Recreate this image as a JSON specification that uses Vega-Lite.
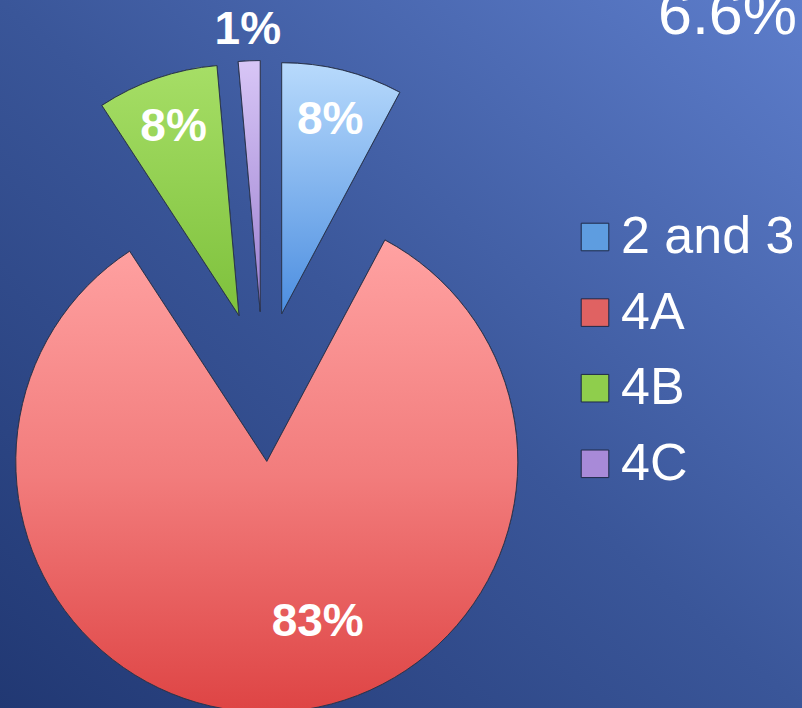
{
  "$schema": "https://vega.github.io/schema/vega-lite/v6.json",
  "width": 802,
  "height": 708,
  "autosize": {"type": "none"},
  "padding": 0,
  "background": "#2f4a8a",
  "title": {
    "text": "6.6%",
    "anchor": "start",
    "frame": "group",
    "orient": "top",
    "dx": 658,
    "dy": 60,
    "offset": -35,
    "baseline": "alphabetic",
    "font": "Liberation Sans",
    "fontSize": 61,
    "fontWeight": "normal",
    "color": "#ffffff"
  },
  "data": {
    "values": [
      {"Group": "2 and 3", "Share": 7.8},
      {"Group": "4A", "Share": 83.0},
      {"Group": "4B", "Share": 7.8},
      {"Group": "4C", "Share": 1.4}
    ]
  },
  "transform": [
    {"window": [{"op": "sum", "field": "Share", "as": "cum"}], "sort": [{"field": "Group"}], "frame": [null, 0]},
    {"calculate": "datum.cum - datum.Share", "as": "start"},
    {"calculate": "datum.cum - datum.Share / 2", "as": "mid"},
    {"calculate": "sin(2 * PI * datum.mid / 100)", "as": "ex"},
    {"calculate": "cos(2 * PI * datum.mid / 100)", "as": "ey"},
    {"calculate": "datum.Group === '4A' ? datum.mid - 4.2 : datum.mid", "as": "la"},
    {"calculate": "datum.Group === '4C' ? 282 : (datum.Group === '4A' ? 168 : 200)", "as": "lr"},
    {"calculate": "round(datum.Share) + '%'", "as": "Label"}
  ],
  "encoding": {
    "x": {"field": "ex", "type": "quantitative", "scale": {"domain": [-3.5133, 7.18], "nice": false, "zero": false}, "axis": null},
    "y": {"field": "ey", "type": "quantitative", "scale": {"domain": [-4.2867, 5.1533], "nice": false, "zero": false}, "axis": null}
  },
  "layer": [
    {
      "mark": {"type": "arc", "radius": 251, "stroke": "#2a3550", "strokeWidth": 1},
      "encoding": {
        "theta": {"field": "start", "type": "quantitative", "stack": null, "scale": {"domain": [0, 100]}},
        "theta2": {"field": "cum"},
        "color": {
          "field": "Group",
          "type": "nominal",
          "scale": {"domain": ["2 and 3", "4A", "4B", "4C"], "range": ["#5e9de0", "#e06262", "#8fce4c", "#a88ad8"]},
          "legend": {
            "title": null,
            "orient": "none",
            "legendX": 569,
            "legendY": 211,
            "padding": 0,
            "symbolType": "square",
            "symbolSize": 760,
            "symbolStrokeColor": "#1e2a48",
            "symbolStrokeWidth": 1,
            "symbolOpacity": 1,
            "labelFont": "Liberation Sans",
            "labelFontSize": 52,
            "labelColor": "#ffffff",
            "labelOffset": 0,
            "labelLimit": 300,
            "rowPadding": 23.6
          }
        }
      }
    },
    {
      "mark": {"type": "arc", "radius": 251, "stroke": "#2a3550", "strokeWidth": 1},
      "encoding": {
        "theta": {"field": "start", "type": "quantitative", "stack": null, "scale": {"domain": [0, 100]}},
        "theta2": {"field": "cum"},
        "fill": {
          "condition": [
            {"test": "datum.Group === '2 and 3'", "value": {"gradient": "linear", "x1": 0, "y1": 0, "x2": 0, "y2": 1, "stops": [{"offset": 0, "color": "#b8dafc"}, {"offset": 1, "color": "#4c8ee0"}]}},
            {"test": "datum.Group === '4A'", "value": {"gradient": "linear", "x1": 0, "y1": 0, "x2": 0, "y2": 1, "stops": [{"offset": 0, "color": "#ffa2a2"}, {"offset": 0.5, "color": "#f27c7c"}, {"offset": 1, "color": "#de4444"}]}},
            {"test": "datum.Group === '4B'", "value": {"gradient": "linear", "x1": 0, "y1": 0, "x2": 0, "y2": 1, "stops": [{"offset": 0, "color": "#a6de66"}, {"offset": 1, "color": "#7ec13c"}]}}
          ],
          "value": {"gradient": "linear", "x1": 0, "y1": 0, "x2": 0, "y2": 1, "stops": [{"offset": 0, "color": "#d8c6f6"}, {"offset": 1, "color": "#9a7ecf"}]}
        }
      }
    },
    {
      "mark": {"type": "text", "font": "Liberation Sans", "fontSize": 46, "fontWeight": "bold", "color": "#ffffff", "baseline": "middle", "align": "center"},
      "encoding": {
        "theta": {"field": "la", "type": "quantitative", "stack": null, "scale": {"domain": [0, 100]}},
        "radius": {"field": "lr", "type": "quantitative", "scale": null},
        "text": {"field": "Label"}
      }
    }
  ],
  "config": {
    "view": {
      "stroke": null,
      "fill": {"gradient": "linear", "x1": 0, "y1": 1, "x2": 1, "y2": 0, "stops": [{"offset": 0, "color": "#213873"}, {"offset": 0.5, "color": "#3a5699"}, {"offset": 1, "color": "#5d7dcb"}]}
    }
  }
}
